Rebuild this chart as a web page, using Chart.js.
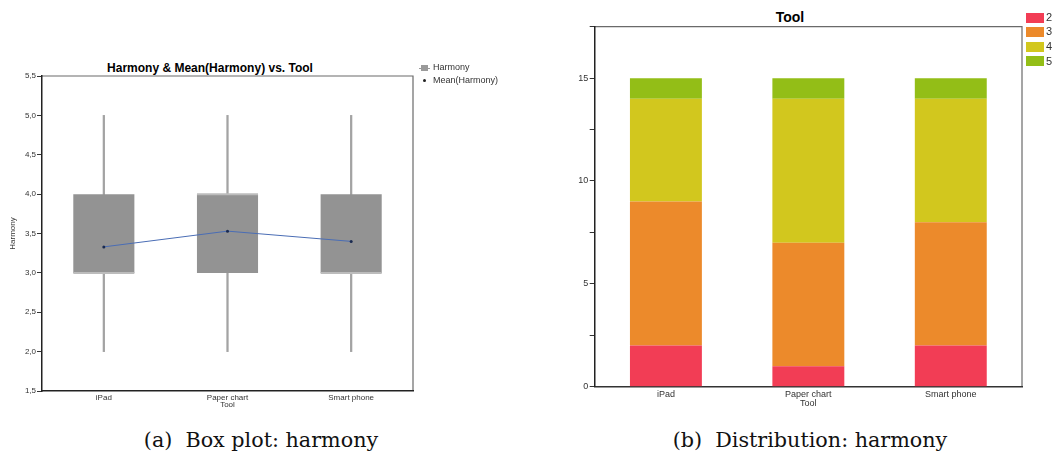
<!DOCTYPE html>
<html>
<head>
    <title>Harmony</title>
    <script src="https://cdn.jsdelivr.net/npm/chart.js"></script>
    <style>
        body {
            margin: 0;
            width: 1055px;
            height: 458px;
            background: white;
            position: relative;
            overflow: hidden;
            font-family: "Liberation Sans", Arial, sans-serif;
        }
        .abs { position: absolute; }
        .title { font-weight: bold; color: #000; transform: translate(-50%, -50%); white-space: nowrap; }
        .caption {
            font-family: "DejaVu Serif", serif;
            font-size: 20.7px;
            color: #111;
            white-space: pre;
            transform: translateX(-50%);
        }
        .leg { font-size: 9px; color: #333; white-space: nowrap; }
        .leg2 { font-size: 11px; color: #333; }
        .swatch { width: 18px; height: 10px; }
    </style>
</head>
<body>
    <div class="abs title" style="left:210px; top:68px; font-size:12px;">Harmony &amp; Mean(Harmony) vs. Tool</div>
    <div class="abs" style="left:0; top:60px; width:420px; height:350px;">
        <canvas id="boxChart"></canvas>
    </div>
    <!-- box plot legend -->
    <div class="abs" style="left:421px; top:65px; width:7px; height:6px; background:#9a9a9a;"></div>
    <div class="abs" style="left:419px; top:67.5px; width:11px; height:1px; background:#9a9a9a;"></div>
    <div class="abs leg" style="left:433px; top:62px;">Harmony</div>
    <div class="abs" style="left:423px; top:79px; width:3px; height:3px; border-radius:2px; background:#222;"></div>
    <div class="abs leg" style="left:433px; top:75px;">Mean(Harmony)</div>

    <div class="abs title" style="left:790px; top:17px; font-size:14px;">Tool</div>
    <div class="abs" style="left:540px; top:10px; width:515px; height:399px;">
        <canvas id="distChart"></canvas>
    </div>
    <div id="distLegend"></div>

    <div class="abs caption" style="left:261px; top:428px;">(a)  Box plot: harmony</div>
    <div class="abs caption" style="left:810px; top:428px;">(b)  Distribution: harmony</div>

    <script>
        // Box plot data (Harmony rating per tool)
        const tools = ['iPad', 'Paper chart', 'Smart phone'];
        const whiskerLow = [2, 2, 2];
        const whiskerHigh = [5, 5, 5];
        const q1 = [3, 3, 3];
        const q3 = [4, 4, 4];
        const median = [3, 4, 3];
        const meanHarmony = [3.33, 3.53, 3.4];

        // Distribution data (count of each rating per tool)
        const ratingLevels = ['2', '3', '4', '5'];
        const count2 = [2, 1, 2];
        const count3 = [7, 6, 6];
        const count4 = [5, 7, 6];
        const count5 = [1, 1, 1];
        const ratingColors = ['#f23d55', '#ec8a2b', '#d2c71e', '#93be17'];

        Chart.defaults.font.family = '"Liberation Sans", Arial, sans-serif';
        Chart.defaults.color = '#333';
        Chart.defaults.animation = false;

        // grey top/right edge of the plot frame
        const framePlugin = {
            id: 'frame',
            beforeDraw(chart) {
                const { ctx, chartArea: a } = chart;
                ctx.save();
                ctx.strokeStyle = '#6a6a6a';
                ctx.lineWidth = 1.2;
                ctx.beginPath();
                ctx.moveTo(a.left, a.top);
                ctx.lineTo(a.right, a.top);
                ctx.lineTo(a.right, a.bottom);
                ctx.stroke();
                ctx.restore();
            }
        };

        const pairs = (lo, hi) => lo.map((v, i) => [v, hi[i]]);

        new Chart(document.getElementById('boxChart'), {
            data: {
                labels: tools,
                datasets: [
                    {
                        type: 'line',
                        label: 'Mean(Harmony)',
                        data: meanHarmony,
                        borderColor: '#4a6db5',
                        borderWidth: 1,
                        pointRadius: 1.5,
                        pointBackgroundColor: '#1a2a50',
                        pointBorderWidth: 0,
                        order: 1
                    },
                    {
                        type: 'line',
                        label: 'Median',
                        data: median,
                        showLine: false,
                        pointStyle: 'line',
                        pointRadius: 30.5,
                        pointBorderColor: '#bcbcbc',
                        pointBorderWidth: 2,
                        order: 2
                    },
                    {
                        type: 'bar',
                        label: 'Harmony',
                        data: pairs(q1, q3),
                        backgroundColor: '#939393',
                        grouped: false,
                        categoryPercentage: 1,
                        barPercentage: 0.494,
                        order: 3
                    },
                    {
                        type: 'bar',
                        label: 'Whisker',
                        data: pairs(whiskerLow, whiskerHigh),
                        backgroundColor: '#a3a3a3',
                        grouped: false,
                        barThickness: 1.6,
                        order: 4
                    }
                ]
            },
            options: {
                responsive: true,
                maintainAspectRatio: false,
                layout: { autoPadding: false, padding: { top: 16, right: 7, left: 0, bottom: 0 } },
                plugins: { legend: { display: false }, tooltip: { enabled: false } },
                scales: {
                    x: {
                        afterFit: (s) => { s.height = 19; },
                        grid: { display: true, drawOnChartArea: false, drawTicks: false },
                        border: { color: '#222', width: 1.5 },
                        ticks: { font: { size: 8 }, padding: 2 },
                        title: { display: true, text: 'Tool', font: { size: 8 }, padding: { top: 0, bottom: 0 } }
                    },
                    y: {
                        min: 1.5,
                        max: 5.5,
                        afterFit: (s) => { s.width = 42; },
                        grid: { drawOnChartArea: false, drawTicks: true, tickLength: 5, color: '#333' },
                        border: { color: '#222', width: 1.5 },
                        ticks: {
                            stepSize: 0.5,
                            font: { size: 8 },
                            padding: 1,
                            callback: (v) => v.toFixed(1).replace('.', ',')
                        },
                        title: { display: true, text: 'Harmony', font: { size: 8 }, padding: { top: 8, bottom: 0 } }
                    }
                }
            },
            plugins: [framePlugin]
        });

        const counts = [count2, count3, count4, count5];
        new Chart(document.getElementById('distChart'), {
            type: 'bar',
            data: {
                labels: tools,
                datasets: ratingLevels.map((lvl, i) => ({
                    label: lvl,
                    data: counts[i],
                    backgroundColor: ratingColors[i],
                    categoryPercentage: 1,
                    barPercentage: 0.505
                }))
            },
            options: {
                responsive: true,
                maintainAspectRatio: false,
                layout: { padding: { top: 16.7, right: 33, left: 0, bottom: 0 } },
                plugins: { legend: { display: false }, tooltip: { enabled: false } },
                scales: {
                    x: {
                        stacked: true,
                        afterFit: (s) => { s.height = 22.3; },
                        grid: { display: true, drawOnChartArea: false, drawTicks: false },
                        border: { color: '#333', width: 1.5 },
                        ticks: { font: { size: 9 }, padding: 2 },
                        title: { display: true, text: 'Tool', font: { size: 9 }, padding: { top: 0, bottom: 0 } }
                    },
                    y: {
                        stacked: true,
                        min: 0,
                        max: 17.5,
                        afterFit: (s) => { s.width = 54.7; },
                        grid: { drawOnChartArea: false, drawTicks: true, tickLength: 5, color: '#333' },
                        border: { color: '#222', width: 1.5 },
                        ticks: {
                            stepSize: 2.5,
                            font: { size: 9 },
                            padding: 1.5,
                            callback: (v) => (v % 5 === 0 ? v : '')
                        }
                    }
                }
            },
            plugins: [framePlugin]
        });

        // legend for the distribution chart
        const legendBox = document.getElementById('distLegend');
        const legendTops = [12.7, 26.9, 41.7, 56];
        ratingLevels.forEach((lvl, i) => {
            legendBox.insertAdjacentHTML('beforeend',
                `<div class="abs swatch" style="left:1026px; top:${legendTops[i]}px; background:${ratingColors[i]};"></div>` +
                `<div class="abs leg2" style="left:1046px; top:${legendTops[i] - 1.5}px;">${lvl}</div>`);
        });
    </script>
</body>
</html>
